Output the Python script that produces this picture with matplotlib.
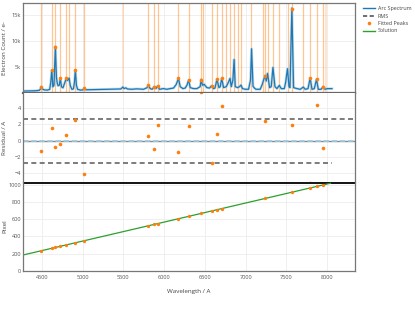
import matplotlib.pyplot as plt
from matplotlib.lines import Line2D

plt.rcParams.update({
    "font.family": ["Open Sans", "DejaVu Sans"],
    "font.size": 4,
    "axes.unicode_minus": True,
})

# =========================
# Data
# =========================
spec_wave = [4270, 4350, 4420, 4470, 4485, 4495, 4505, 4530, 4570, 4597,
             4610, 4623, 4636, 4650, 4667, 4680, 4690, 4700, 4715, 4728,
             4742, 4760, 4780, 4802, 4815, 4835, 4850, 4870, 4888, 4900,
             4912, 4925, 4940, 4975, 5005, 5023, 5040, 5100, 5200, 5300,
             5400, 5470, 5494, 5510, 5530, 5550, 5600, 5666, 5747, 5788,
             5808, 5829, 5853, 5882, 5899, 5921, 5943, 5992, 6034, 6074,
             6115, 6148, 6176, 6197, 6230, 6258, 6279, 6301, 6320, 6360,
             6402, 6442, 6455, 6470, 6491, 6524, 6556, 6581, 6606, 6623,
             6648, 6672, 6688, 6706, 6729, 6762, 6786, 6808, 6823, 6843,
             6858, 6872, 6900, 6925, 6942, 6961, 6994, 7035, 7059, 7072,
             7090, 7110, 7126, 7178, 7203, 7219, 7240, 7252, 7268, 7293,
             7313, 7334, 7359, 7383, 7412, 7436, 7473, 7489, 7512, 7531,
             7543, 7566, 7587, 7629, 7669, 7706, 7730, 7764, 7790, 7813,
             7841, 7868, 7890, 7923, 7950, 7972, 7997, 8058]
spec_count = [380, 400, 430, 520, 800, 1230, 800, 600, 560, 700,
              2000, 4365, 1200, 1500, 8980, 3000, 1900, 1400, 1500, 2830,
              1200, 1000, 1900, 2885, 2400, 2885, 1400, 700, 800, 2000,
              4365, 1500, 700, 560, 600, 900, 620, 640, 680, 700,
              720, 780, 1150, 850, 1000, 780, 720, 800, 720, 1000,
              1480, 850, 720, 1230, 850, 1350, 720, 850, 720, 850,
              950, 1650, 2830, 1230, 850, 950, 1480, 2500, 1040, 850,
              850, 1230, 2630, 1500, 1670, 1040, 950, 1385, 850, 950,
              2630, 1040, 1230, 2830, 1040, 1230, 2000, 2830, 1230, 2500,
              6480, 1230, 1040, 1230, 1540, 850, 720, 720, 2500, 8540,
              1300, 900, 720, 720, 1670, 2500, 3400, 2310, 3790, 1040,
              1230, 4940, 1230, 846, 1480, 846, 846, 2000, 4690, 1230,
              1040, 16420, 1040, 846, 712, 1150, 712, 846, 2880, 712,
              846, 2630, 712, 712, 1230, 712, 846, 846]

peak_wave = [4495, 4623, 4667, 4728, 4802, 4912, 5023, 5808, 5882, 5921,
             6176, 6301, 6455, 6581, 6648, 6706, 7240, 7565, 7792, 7872, 7952]
peak_count = [1230, 4365, 8980, 2830, 2885, 4365, 900, 1480, 1230, 1350,
              2830, 2500, 2500, 1385, 2635, 2830, 3365, 16290, 2830, 2635, 1230]
peak_resid = [-1.23, 1.52, -0.74, -0.44, 0.66, 2.58, -4.05, 0.61, -1.06, 1.93,
              -1.35, 1.84, 6.0, -2.74, 0.82, 4.29, 2.42, 1.89, -5.2, 4.34, -0.86]
peak_pixel = [235, 263, 273, 286, 302, 327, 351, 524, 540, 549,
              605, 633, 667, 695, 709, 722, 840, 912, 962, 979, 997]

# arc lines without a fitted peak
extra_lines = [4835, 6475, 6753, 6810, 6860, 6905, 6945, 7068, 7207, 7268,
               7334, 7412, 7514, 7706]
faint_lines = [5494, 7985]

sol_wave = [4270, 5000, 6000, 7000, 8040]
sol_pixel = [185, 346, 566, 787, 1016]

rms = 2.7
pixel_max = 1024

# =========================
# Layout
# =========================
W, H = 415, 321
fig = plt.figure(figsize=(W / 100, H / 100), dpi=100)


def box(x0, y0, x1, y1):
    return [x0 / W, 1 - y1 / H, (x1 - x0) / W, (y1 - y0) / H]


ax1 = fig.add_axes(box(23, 3, 355, 93))
ax2 = fig.add_axes(box(23, 93, 355, 182), sharex=ax1)
ax3 = fig.add_axes(box(23, 182, 355, 271), sharex=ax1)

orange = "#ff7f0e"
blue = "#1f77b4"
green = "#2ca02c"
tick_col = "#555555"

for ax in (ax1, ax2, ax3):
    ax.grid(True, color="#ececec", lw=0.6)
    ax.set_axisbelow(True)
    ax.tick_params(length=0, pad=1.5, labelsize=4.1, colors=tick_col)
    for s in ax.spines.values():
        s.set_color("#777777")
        s.set_linewidth(0.9)

# -------------------------------------------------
# Top panel: arc spectrum and fitted peaks
# -------------------------------------------------
xt = ax1.get_xaxis_transform()
ax1.vlines(peak_wave + extra_lines, 0, 1, transform=xt, color=orange,
           alpha=0.45, lw=0.9, zorder=1)
ax1.vlines(faint_lines, 0, 1, transform=xt, color=orange,
           alpha=0.2, lw=1.4, zorder=1)
ax1.plot(spec_wave, spec_count, color="#9ecae1", lw=2.0, alpha=0.6, zorder=2)
ax1.plot(spec_wave, spec_count, color=blue, lw=0.9, zorder=2)
ax1.plot(peak_wave, peak_count, "o", color=orange, ms=2.6, mew=0, zorder=3)
ax1.set_ylim(0, 17400)
ax1.set_yticks([5000, 10000, 15000])
ax1.set_yticklabels(["5k", "10k", "15k"])
ax1.spines["bottom"].set_linewidth(1.6)
ax1.spines["bottom"].set_color("#666666")
ax1.tick_params(labelbottom=False)
ax1.set_ylabel("Electron Count / e-", fontsize=4.5, color="#444444")
ax1.yaxis.set_label_coords(-0.047, 0.5)

# -------------------------------------------------
# Middle panel: residuals
# -------------------------------------------------
ax2.axhline(0, color="#888888", lw=1.0, zorder=1)
ax2.axhline(0, color="#9ecae1", lw=1.3, dashes=(3, 1.5), zorder=2)
ax2.axhline(rms, color="#666666", lw=1.2, dashes=(3, 2), zorder=2)
ax2.plot([4270, 8058], [-rms, -rms], color="#666666", lw=1.2,
         dashes=(3, 2), zorder=2)
ax2.plot(peak_wave, peak_resid, "o", color=orange, ms=2.6, mew=0, zorder=3)
ax2.set_ylim(-5.07, 5.85)
ax2.set_yticks([-4, -2, 0, 2, 4])
ax2.spines["top"].set_visible(False)
ax2.spines["bottom"].set_visible(False)
ax2.tick_params(labelbottom=False)
ax2.set_ylabel("Residual / A", fontsize=4.5, color="#444444")
ax2.yaxis.set_label_coords(-0.047, 0.5)

# -------------------------------------------------
# Bottom panel: wavelength solution
# -------------------------------------------------
ax3.axhline(pixel_max, color="black", lw=1.3, zorder=2)
ax3.plot(sol_wave, sol_pixel, color=green, lw=0.9, zorder=2)
ax3.plot(peak_wave, peak_pixel, "o", color=orange, ms=2.4, mew=0, zorder=3)
ax3.set_ylim(0, 1030)
ax3.set_yticks([0, 200, 400, 600, 800, 1000])
ax3.spines["top"].set_visible(False)
ax3.set_xlim(4270, 8340)
ax3.set_xticks([4500, 5000, 5500, 6000, 6500, 7000, 7500, 8000])
ax3.tick_params(axis="x", pad=3)
ax3.set_ylabel("Pixel", fontsize=4.5, color="#444444")
ax3.yaxis.set_label_coords(-0.047, 0.5)
ax3.set_xlabel("Wavelength / A", fontsize=4.5, color="#444444")
ax3.xaxis.set_label_coords(0.5, -0.2)

# Combined legend
handles = [
    Line2D([], [], color=blue, lw=1.0),
    Line2D([], [], color="#555555", lw=1.2, dashes=(2.5, 1.5)),
    Line2D([], [], ls="none", marker="o", color=orange, ms=2.6, mew=0),
    Line2D([], [], color=green, lw=1.0),
]
labels = ["Arc Spectrum", "RMS", "Fitted Peaks", "Solution"]
fig.legend(handles, labels, loc="upper left",
           bbox_to_anchor=(361 / W, 1 - 4 / H), frameon=False,
           fontsize=3.9, handlelength=2.2, handletextpad=0.5,
           labelspacing=0.45, borderaxespad=0, labelcolor="#444444")

fig.savefig("out.png", dpi=100)
plt.close(fig)
